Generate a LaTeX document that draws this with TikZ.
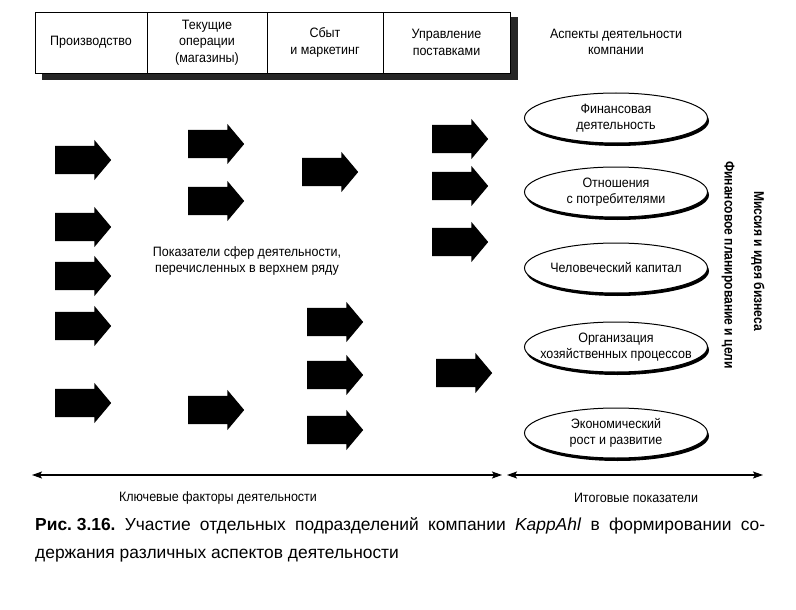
\documentclass[tikz,border=0pt]{standalone}
\usepackage{fontspec}
\setmainfont{Liberation Sans}
\newfontfamily\cf[FakeStretch=0.92]{Liberation Sans}
\newfontfamily\cfb[FakeStretch=0.85]{Liberation Sans Bold}
\usetikzlibrary{shapes.arrows,shapes.geometric,shadows,arrows.meta}
\begin{document}
\begin{tikzpicture}[x=1pt,y=-1pt,
  txt/.style={font=\cf\fontsize{13.6}{16.5}\selectfont, align=center, inner sep=0pt},
  hcell/.style={txt, draw, fill=white, line width=0.9pt, minimum height=61pt},
  blk/.style={single arrow, fill=black, draw=none, minimum height=56pt,
    single arrow head extend=6pt, inner xsep=0pt, inner ysep=14pt,
    single arrow tip angle=100, anchor=west},
  ell/.style={txt, ellipse, draw, line width=1pt, fill=white,
    minimum width=183pt, minimum height=50pt, inner xsep=-16pt, inner ysep=0pt,
    drop shadow={shadow xshift=1.5pt, shadow yshift=-3pt, fill=black, opacity=1}},
  vtxt/.style={font=\cfb\fontsize{14.2}{15}\selectfont, rotate=-90, inner sep=0pt},
  axis/.style={line width=1.2pt, {Stealth[length=10pt,width=7pt,inset=2pt]}-{Stealth[length=10pt,width=7pt,inset=2pt]}},
  captxt/.style={anchor=base west, inner sep=0pt, font=\fontsize{17.4}{20}\selectfont}
]
\useasboundingbox (0,0) rectangle (796,610);
% header shadow and cells
\fill[black!85] (42,17) rectangle (518,80);
\node[hcell, minimum width=112pt] (h1) at (91,42.5) {Производство};
\node[hcell, minimum width=120pt] (h2) at (207,42.5) {Текущие\\операции\\(магазины)};
\node[hcell, minimum width=116pt] (h3) at (325,42.5) {Сбыт\\и маркетинг};
\node[hcell, minimum width=127pt] (h4) at (446.5,42.5) {Управление\\поставками};
\node[txt] (asp) at (616,42) {Аспекты деятельности\\компании};
% block arrows
\node[blk] (a1) at (55,160) {};
\node[blk] (a2) at (55,227) {};
\node[blk] (a3) at (55,276) {};
\node[blk] (a4) at (55,326) {};
\node[blk] (a5) at (55,403) {};
\node[blk] (b1) at (188,144) {};
\node[blk] (b2) at (188,201) {};
\node[blk] (b3) at (188,410) {};
\node[blk] (c1) at (302,172) {};
\node[blk] (c2) at (307,322) {};
\node[blk] (c3) at (307,375) {};
\node[blk] (c4) at (307,430) {};
\node[blk] (d1) at (432,139) {};
\node[blk] (d2) at (432,186) {};
\node[blk] (d3) at (432,242) {};
\node[blk] (d4) at (436,373) {};
% centre text
\node[txt] (mid) at (247,261) {Показатели сфер деятельности,\\перечисленных в верхнем ряду};
% ellipses
\node[ell] (e1) at (616,118) {Финансовая\\деятельность};
\node[ell] (e2) at (616,192) {Отношения\\с потребителями};
\node[ell] (e3) at (616,268) {Человеческий капитал};
\node[ell] (e4) at (616,347) {Организация\\хозяйственных процессов};
\node[ell] (e5) at (616,433) {Экономический\\рост и развитие};
% vertical texts
\node[vtxt] (fp) at (728,265) {Финансовое планирование и цели};
\node[vtxt] (mi) at (758,261) {Миссия и идея бизнеса};
% bottom axis
\coordinate (l1) at (32,475);
\coordinate (l2) at (502,475);
\coordinate (r1) at (507,475);
\coordinate (r2) at (763,475);
\draw[axis] (l1) -- (l2);
\draw[axis] (r1) -- (r2);
\node[txt] (kf) at (218,498) {Ключевые факторы деятельности};
\node[txt] (ip) at (636,498) {Итоговые показатели};
% caption
\node[captxt] (cap1) at (35,530)
  {\makebox[730pt][s]{\mbox{\textbf{Рис.~3.16.}} Участие отдельных подразделений компании \textit{KappAhl} в формировании со-}};
\node[captxt] (cap2) at (35,558)
  {держания различных аспектов деятельности};
\end{tikzpicture}
\end{document}
